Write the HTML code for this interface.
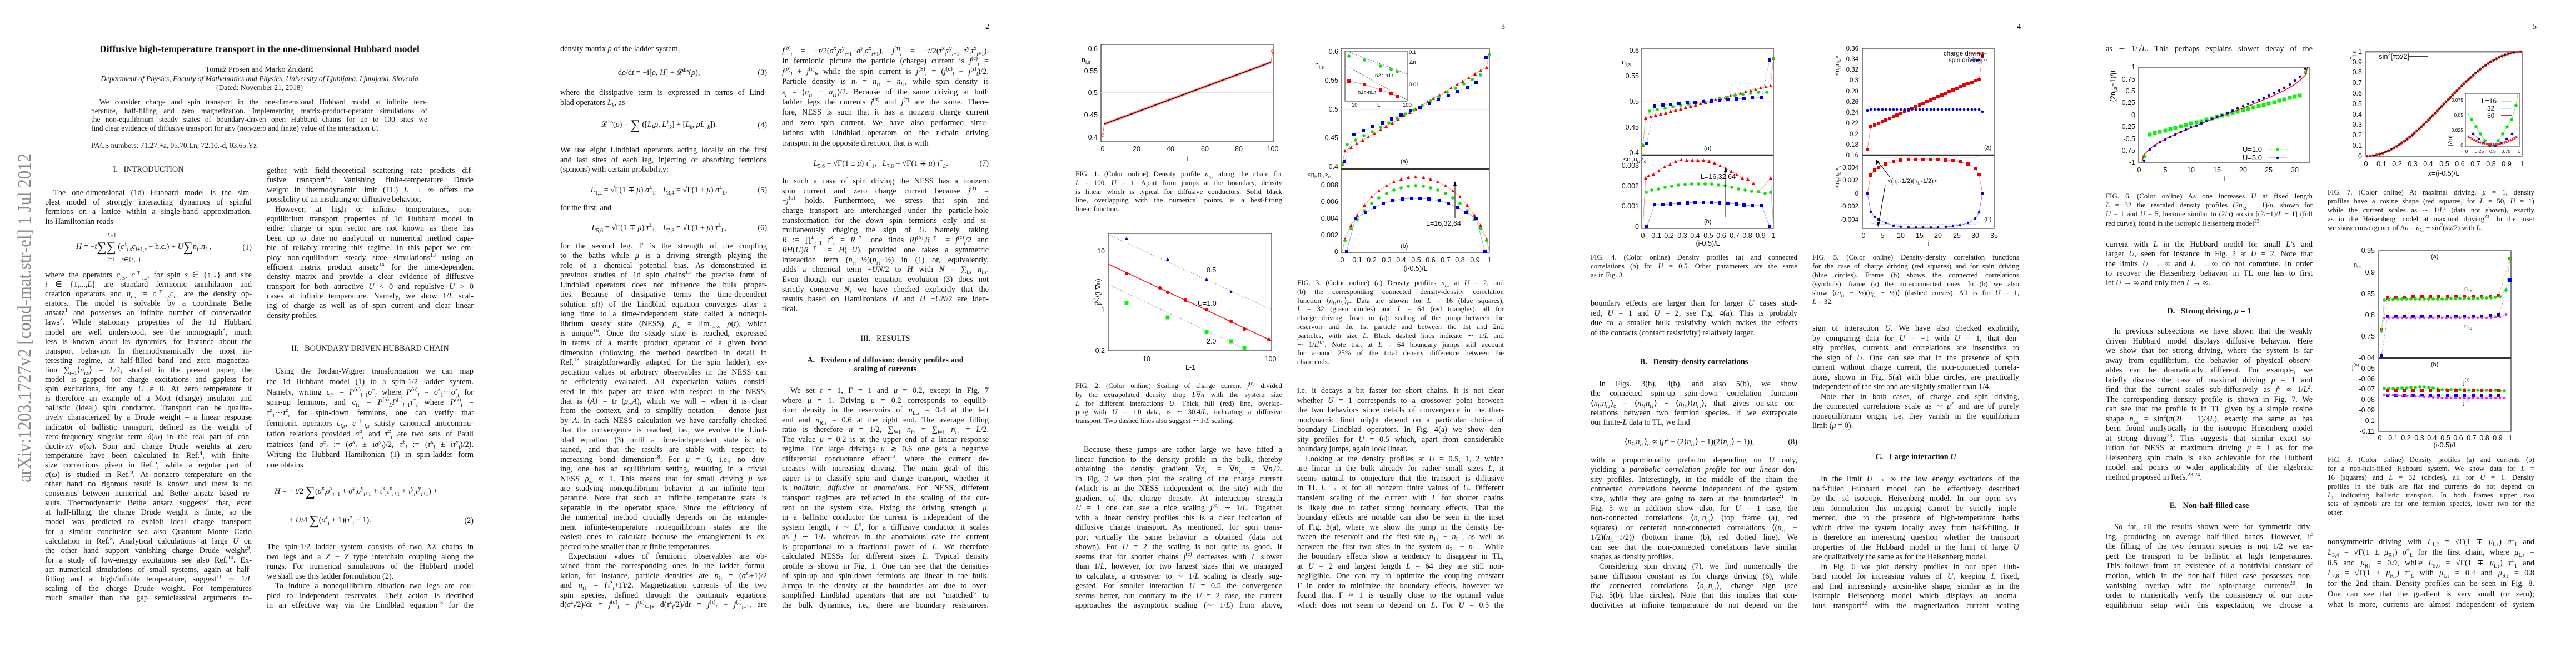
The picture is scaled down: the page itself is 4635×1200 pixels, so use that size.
<!DOCTYPE html>
<html><head><meta charset="utf-8">
<style>
html,body{margin:0;padding:0;background:#fff;}
body{width:4635px;height:1200px;position:relative;overflow:hidden;font-family:"Liberation Serif",serif;color:#111;}
.c{position:absolute;width:372px;font-size:14.3px;}
.c>div{height:var(--lh);line-height:var(--lh);overflow:hidden;text-align:justify;text-align-last:justify;}
.c>div.e{text-align-last:left;}
.c>div.i{text-indent:15px;}
.cap{font-size:12.9px;}
.t{position:absolute;white-space:nowrap;}
.h{position:absolute;width:372px;text-align:center;font-size:14.3px;white-space:nowrap;}
.eq{position:absolute;width:372px;font-size:14.3px;white-space:nowrap;display:flex;justify-content:space-between;align-items:center;}
.eq span.m{flex:1;text-align:center;}
sub,sup{font-size:70%;line-height:0;}
.big{font-size:24px;vertical-align:-4px;}
.pn{position:absolute;font-size:14px;top:41px;}
svg text{font-family:"Liberation Sans",sans-serif;}
</style></head><body>

<!-- ============ PAGE 1 ============ -->
<div class="t" style="left:124px;top:78px;width:686px;text-align:center;font-size:17.5px;font-weight:bold;">Diffusive high-temperature transport in the one-dimensional Hubbard model</div>
<div class="t" style="left:124px;top:118px;width:686px;text-align:center;font-size:14px;">Tomaž Prosen and Marko Žnidarič</div>
<div class="t" style="left:124px;top:134px;width:686px;text-align:center;font-size:13.5px;font-style:italic;">Department of Physics, Faculty of Mathematics and Physics, University of Ljubljana, Ljubljana, Slovenia</div>
<div class="t" style="left:124px;top:150px;width:686px;text-align:center;font-size:13.5px;">(Dated: November 21, 2018)</div>
<div class="c" style="left:164px;top:176px;width:605px;font-size:13.4px;--lh:15.6px;">
<div class="i">We consider charge and spin transport in the one-dimensional Hubbard model at infinite tem-</div>
<div>perature, half-filling and zero magnetization. Implementing matrix-product-operator simulations of</div>
<div>the non-equilibrium steady states of boundary-driven open Hubbard chains for up to 100 sites we</div>
<div class="e">find clear evidence of diffusive transport for any (non-zero and finite) value of the interaction <i>U</i>.</div>
</div>
<div class="t" style="left:164px;top:254px;font-size:13.4px;">PACS numbers: 71.27.+a, 05.70.Ln, 72.10.-d, 03.65.Yz</div>

<div class="h" style="left:81px;top:297px;">I.&nbsp;&nbsp; INTRODUCTION</div>
<div class="c" style="left:81px;top:339px;--lh:17.2px;">
<div class="i">The one-dimensional (1d) Hubbard model is the sim-</div>
<div>plest model of strongly interacting dynamics of spinful</div>
<div>fermions on a lattice within a single-band approximation.</div>
<div class="e">Its Hamiltonian reads</div>
</div>
<div class="eq" style="left:81px;top:430px;height:30px;"><span class="m"><i>H</i> = −<i>t</i><span class="big">∑</span><span class="big">∑</span> (<i>c</i><sup>†</sup><sub><i>i,s</i></sub><i>c</i><sub><i>i</i>+1,<i>s</i></sub> + h.c.) + <i>U</i><span class="big">∑</span><i>n</i><sub><i>i</i>↑</sub><i>n</i><sub><i>i</i>↓</sub>,</span><span>(1)</span></div>
<div class="t" style="left:193px;top:419px;font-size:10px;"><i>L</i>−1</div>
<div class="t" style="left:193px;top:462px;font-size:10px;"><i>i</i>=1&nbsp;&nbsp;&nbsp;&nbsp;&nbsp;<i>s</i>∈{↑,↓}</div>
<div class="c" style="left:81px;top:487px;--lh:17.1px;">
<div>where the operators <i>c<sub>i,s</sub></i>, <i>c</i><sup>†</sup><sub><i>i,s</i></sub>, for spin <i>s</i> ∈ {↑,↓} and site</div>
<div><i>i</i> ∈ {1,...,<i>L</i>} are standard fermionic annihilation and</div>
<div>creation operators and <i>n<sub>i,s</sub></i> := <i>c</i><sup>†</sup><sub><i>i,s</i></sub><i>c<sub>i,s</sub></i> are the density op-</div>
<div>erators. The model is solvable by a coordinate Bethe</div>
<div>ansatz<sup>1</sup> and possesses an infinite number of conservation</div>
<div>laws<sup>2</sup>. While stationary properties of the 1d Hubbard</div>
<div>model are well understood, see the monograph<sup>3</sup>, much</div>
<div>less is known about its dynamics, for instance about the</div>
<div>transport behavior. In thermodynamically the most in-</div>
<div>teresting regime, at half-filled band and zero magnetiza-</div>
<div>tion ∑<sub><i>i</i>=1</sub>⟨<i>n<sub>i,s</sub></i>⟩ = <i>L</i>/2, studied in the present paper, the</div>
<div>model is gapped for charge excitations and gapless for</div>
<div>spin excitations, for any <i>U</i> ≠ 0. At zero temperature it</div>
<div>is therefore an example of a Mott (charge) insulator and</div>
<div>ballistic (ideal) spin conductor. Transport can be qualita-</div>
<div>tively characterized by a Drude weight – a linear response</div>
<div>indicator of ballistic transport, defined as the weight of</div>
<div>zero-frequency singular term <i>δ</i>(<i>ω</i>) in the real part of con-</div>
<div>ductivity <i>σ</i>(<i>ω</i>). Spin and charge Drude weights at zero</div>
<div>temperature have been calculated in Ref.<sup>4</sup>, with finite-</div>
<div>size corrections given in Ref.<sup>5</sup>, while a regular part of</div>
<div><i>σ</i>(<i>ω</i>) is studied in Ref.<sup>6</sup>. At nonzero temperature on the</div>
<div>other hand no rigorous result is known and there is no</div>
<div>consensus between numerical and Bethe ansatz based re-</div>
<div>sults. Thermodynamic Bethe ansatz suggests<sup>7</sup> that, even</div>
<div>at half-filling, the charge Drude weight is finite, so the</div>
<div>model was predicted to exhibit ideal charge transport;</div>
<div>for a similar conclusion see also Quantum Monte Carlo</div>
<div>calculation in Ref.<sup>8</sup>. Analytical calculations at large <i>U</i> on</div>
<div>the other hand support vanishing charge Drude weight<sup>9</sup>,</div>
<div>for a study of low-energy excitations see also Ref.<sup>10</sup>. Ex-</div>
<div>act numerical simulations of small systems, again at half-</div>
<div>filling and at high/infinite temperature, suggest<sup>11</sup> ∼ 1/<i>L</i></div>
<div>scaling of the charge Drude weight. For temperatures</div>
<div>much smaller than the gap semiclassical arguments to-</div>
</div>

<div class="c" style="left:480px;top:299px;--lh:17.4px;">
<div>gether with field-theoretical scattering rate predicts dif-</div>
<div>fusive transport<sup>12</sup>. Vanishing finite-temperature Drude</div>
<div>weight in thermodynamic limit (TL) <i>L</i> → ∞ offers the</div>
<div class="e">possibility of an insulating or diffusive behavior.</div>
<div class="i">However, at high or infinite temperatures, non-</div>
<div>equilibrium transport properties of 1d Hubbard model in</div>
<div>either charge or spin sector are not known as there has</div>
<div>been up to date no analytical or numerical method capa-</div>
<div>ble of reliably treating this regime. In this paper we em-</div>
<div>ploy non-equilibrium steady state simulations<sup>13</sup> using an</div>
<div>efficient matrix product ansatz<sup>14</sup> for the time-dependent</div>
<div>density matrix and provide a clear evidence of diffusive</div>
<div>transport for both attractive <i>U</i> &lt; 0 and repulsive <i>U</i> &gt; 0</div>
<div>cases at infinite temperature. Namely, we show 1/<i>L</i> scal-</div>
<div>ing of charge as well as of spin current and clear linear</div>
<div class="e">density profiles.</div>
</div>
<div class="h" style="left:480px;top:619px;">II.&nbsp;&nbsp; BOUNDARY DRIVEN HUBBARD CHAIN</div>
<div class="c" style="left:480px;top:659px;--lh:18.8px;">
<div class="i">Using the Jordan-Wigner transformation we can map</div>
<div>the 1d Hubbard model (1) to a spin-1/2 ladder system.</div>
<div>Namely, writing <i>c</i><sub><i>i</i>↑</sub> = <i>P</i><sup>(<i>σ</i>)</sup><sub><i>i</i>−1</sub><i>σ</i><sup>−</sup><sub><i>i</i></sub> where <i>P</i><sup>(<i>σ</i>)</sup><sub><i>i</i></sub> = <i>σ</i><sup>z</sup><sub>1</sub>···<i>σ</i><sup>z</sup><sub><i>i</i></sub> for</div>
<div>spin-up fermions, and <i>c</i><sub><i>i</i>↓</sub> = <i>P</i><sup>(<i>σ</i>)</sup><sub><i>L</i></sub><i>P</i><sup>(<i>τ</i>)</sup><sub><i>i</i>−1</sub><i>τ</i><sup>−</sup><sub><i>i</i></sub> where <i>P</i><sup>(<i>τ</i>)</sup><sub><i>i</i></sub> =</div>
<div><i>τ</i><sup>z</sup><sub>1</sub>···<i>τ</i><sup>z</sup><sub><i>i</i></sub> for spin-down fermions, one can verify that</div>
<div>fermionic operators <i>c<sub>i,s</sub></i>, <i>c</i><sup>†</sup><sub><i>i,s</i></sub> satisfy canonical anticommu-</div>
<div>tation relations provided <i>σ</i><sup>α</sup><sub><i>i</i></sub> and <i>τ</i><sup>α</sup><sub><i>i</i></sub> are two sets of Pauli</div>
<div>matrices (and <i>σ</i><sup>±</sup><sub><i>j</i></sub> := (<i>σ</i><sup>x</sup><sub><i>j</i></sub> ± i<i>σ</i><sup>y</sup><sub><i>j</i></sub>)/2, <i>τ</i><sup>±</sup><sub><i>j</i></sub> := (<i>τ</i><sup>x</sup><sub><i>j</i></sub> ± i<i>τ</i><sup>y</sup><sub><i>j</i></sub>)/2).</div>
<div>Writing the Hubbard Hamiltonian (1) in spin-ladder form</div>
<div class="e">one obtains</div>
</div>
<div class="eq" style="left:480px;top:870px;height:30px;"><span style="padding-left:14px"><i>H</i> = − <i>t</i>/2 <span class="big">∑</span>(<i>σ</i><sup>x</sup><sub><i>i</i></sub><i>σ</i><sup>x</sup><sub><i>i</i>+1</sub> + <i>σ</i><sup>y</sup><sub><i>i</i></sub><i>σ</i><sup>y</sup><sub><i>i</i>+1</sub> + <i>τ</i><sup>x</sup><sub><i>i</i></sub><i>τ</i><sup>x</sup><sub><i>i</i>+1</sub> + <i>τ</i><sup>y</sup><sub><i>i</i></sub><i>τ</i><sup>y</sup><sub><i>i</i>+1</sub>) +</span><span></span></div>
<div class="eq" style="left:480px;top:922px;height:30px;"><span style="padding-left:40px">+ <i>U</i>/4 <span class="big">∑</span>(<i>σ</i><sup>z</sup><sub><i>i</i></sub> + 1)(<i>τ</i><sup>z</sup><sub><i>i</i></sub> + 1).</span><span>(2)</span></div>
<div class="c" style="left:480px;top:976px;--lh:17.5px;">
<div>The spin-1/2 ladder system consists of two <i>XX</i> chains in</div>
<div>two legs and a <i>Z</i> − <i>Z</i> type interchain coupling along the</div>
<div>rungs. For numerical simulations of the Hubbard model</div>
<div class="e">we shall use this ladder formulation (2).</div>
<div class="i">To induce a nonequilibrium situation two legs are cou-</div>
<div>pled to independent reservoirs. Their action is decribed</div>
<div>in an effective way via the Lindblad equation<sup>15</sup> for the</div>
</div>

<!-- ============ PAGE 2 ============ -->
<div class="pn" style="left:1773px;">2</div>
<div class="c" style="left:1008px;top:80px;--lh:17.4px;">
<div class="e">density matrix <i>ρ</i> of the ladder system,</div>
</div>
<div class="eq" style="left:1008px;top:120px;height:22px;"><span class="m">d<i>ρ</i>/d<i>t</i> = −i[<i>ρ</i>, <i>H</i>] + 𝓛<sup>dis</sup>(<i>ρ</i>),</span><span>(3)</span></div>
<div class="c" style="left:1008px;top:159px;--lh:17.6px;">
<div>where the dissipative term is expressed in terms of Lind-</div>
<div class="e">blad operators <i>L<sub>k</sub></i>, as</div>
</div>
<div class="eq" style="left:1008px;top:212px;height:26px;"><span class="m">𝓛<sup>dis</sup>(<i>ρ</i>) = <span class="big">∑</span> ([<i>L<sub>k</sub>ρ</i>, <i>L</i><sup>†</sup><sub><i>k</i></sub>] + [<i>L<sub>k</sub></i>, <i>ρL</i><sup>†</sup><sub><i>k</i></sub>]).</span><span>(4)</span></div>
<div class="c" style="left:1008px;top:262px;--lh:17.5px;">
<div>We use eight Lindblad operators acting locally on the first</div>
<div>and last sites of each leg, injecting or absorbing fermions</div>
<div class="e">(spinons) with certain probability:</div>
</div>
<div class="eq" style="left:1008px;top:331px;height:22px;"><span class="m"><i>L</i><sub>1,2</sub> = √Γ(1 ∓ <i>μ</i>) <i>σ</i><sup>±</sup><sub>1</sub>,&nbsp;&nbsp; <i>L</i><sub>3,4</sub> = √Γ(1 ± <i>μ</i>) <i>σ</i><sup>±</sup><sub><i>L</i></sub>,</span><span>(5)</span></div>
<div class="c" style="left:1008px;top:366px;--lh:17.5px;"><div class="e">for the first, and</div></div>
<div class="eq" style="left:1008px;top:399px;height:22px;"><span class="m"><i>L</i><sub>5,6</sub> = √Γ(1 ∓ <i>μ</i>) <i>τ</i><sup>±</sup><sub>1</sub>,&nbsp;&nbsp; <i>L</i><sub>7,8</sub> = √Γ(1 ± <i>μ</i>) <i>τ</i><sup>±</sup><sub><i>L</i></sub>,</span><span>(6)</span></div>
<div class="c" style="left:1008px;top:435px;--lh:17.45px;">
<div>for the second leg. Γ is the strength of the coupling</div>
<div>to the baths while <i>μ</i> is a driving strength playing the</div>
<div>role of a chemical potential bias. As demonstrated in</div>
<div>previous studies of 1d spin chains<sup>13</sup> the precise form of</div>
<div>Lindblad operators does not influence the bulk proper-</div>
<div>ties. Because of dissipative terms the time-dependent</div>
<div>solution <i>ρ</i>(<i>t</i>) of the Lindblad equation converges after a</div>
<div>long time to a time-independent state called a nonequi-</div>
<div>librium steady state (NESS), <i>ρ</i><sub>∞</sub> = lim<sub><i>t</i>→∞</sub> <i>ρ</i>(<i>t</i>), which</div>
<div>is unique<sup>16</sup>. Once the steady state is reached, expressed</div>
<div>in terms of a matrix product operator of a given bond</div>
<div>dimension (following the method described in detail in</div>
<div>Ref.<sup>13</sup> straightforwardly adapted for the spin ladder), ex-</div>
<div>pectation values of arbitrary observables in the NESS can</div>
<div>be efficiently evaluated. All expectation values consid-</div>
<div>ered in this paper are taken with respect to the NESS,</div>
<div>that is ⟨<i>A</i>⟩ = tr (<i>ρ</i><sub>∞</sub><i>A</i>), which we will – when it is clear</div>
<div>from the context, and to simplify notation – denote just</div>
<div>by <i>A</i>. In each NESS calculation we have carefully checked</div>
<div>that the convergence is reached, i.e., we evolve the Lind-</div>
<div>blad equation (3) until a time-independent state is ob-</div>
<div>tained, and that the results are stable with respect to</div>
<div>increasing bond dimension<sup>18</sup>. For <i>μ</i> = 0, i.e., no driv-</div>
<div>ing, one has an equilibrium setting, resulting in a trivial</div>
<div>NESS <i>ρ</i><sub>∞</sub> ∝ 1. This means that for small driving <i>μ</i> we</div>
<div>are studying nonequilibrium behavior at an infinite tem-</div>
<div>perature. Note that such an infinite temperature state is</div>
<div>separable in the operator space. Since the efficiency of</div>
<div>the numerical method crucially depends on the entangle-</div>
<div>ment infinite-temperature nonequilibrium states are the</div>
<div>easiest ones to calculate because the entanglement is ex-</div>
<div class="e">pected to be smaller than at finite temperatures.</div>
<div class="i">Expectation values of fermionic observables are ob-</div>
<div>tained from the corresponding ones in the ladder formu-</div>
<div>lation, for instance, particle densities are <i>n</i><sub><i>i</i>↑</sub> = (<i>σ</i><sup>z</sup><sub><i>i</i></sub>+1)/2</div>
<div>and <i>n</i><sub><i>i</i>↓</sub> = (<i>τ</i><sup>z</sup><sub><i>i</i></sub>+1)/2. Magnetization currents of the two</div>
<div>spin species, defined through the continuity equations</div>
<div>d(<i>σ</i><sup>z</sup><sub><i>i</i></sub>/2)/d<i>t</i> = <i>j</i><sup>(<i>σ</i>)</sup><sub><i>i</i></sub> − <i>j</i><sup>(<i>σ</i>)</sup><sub><i>i</i>−1</sub>, d(<i>τ</i><sup>z</sup><sub><i>i</i></sub>/2)/d<i>t</i> = <i>j</i><sup>(<i>τ</i>)</sup><sub><i>i</i></sub> − <i>j</i><sup>(<i>τ</i>)</sup><sub><i>i</i>−1</sub>, are</div>
</div>

<div class="c" style="left:1407px;top:83px;--lh:18.4px;">
<div><i>j</i><sup>(<i>σ</i>)</sup><sub><i>i</i></sub> = −<i>t</i>/2(<i>σ</i><sup>x</sup><sub><i>i</i></sub><i>σ</i><sup>y</sup><sub><i>i</i>+1</sub>−<i>σ</i><sup>y</sup><sub><i>i</i></sub><i>σ</i><sup>x</sup><sub><i>i</i>+1</sub>), <i>j</i><sup>(<i>τ</i>)</sup><sub><i>i</i></sub> = −<i>t</i>/2(<i>τ</i><sup>x</sup><sub><i>i</i></sub><i>τ</i><sup>y</sup><sub><i>i</i>+1</sub>−<i>τ</i><sup>y</sup><sub><i>i</i></sub><i>τ</i><sup>x</sup><sub><i>i</i>+1</sub>).</div>
<div>In fermionic picture the particle (charge) current is <i>j</i><sup>(c)</sup><sub><i>i</i></sub> =</div>
<div><i>j</i><sup>(<i>σ</i>)</sup><sub><i>i</i></sub> + <i>j</i><sup>(<i>τ</i>)</sup><sub><i>i</i></sub>, while the spin current is <i>j</i><sup>(S)</sup><sub><i>i</i></sub> = (<i>j</i><sup>(<i>σ</i>)</sup><sub><i>i</i></sub> − <i>j</i><sup>(<i>τ</i>)</sup><sub><i>i</i></sub>)/2.</div>
<div>Particle density is <i>n<sub>i</sub></i> = <i>n</i><sub><i>i</i>↑</sub> + <i>n</i><sub><i>i</i>↓</sub>, while spin density is</div>
<div><i>s<sub>i</sub></i> = (<i>n</i><sub><i>i</i>↑</sub> − <i>n</i><sub><i>i</i>↓</sub>)/2. Because of the same driving at both</div>
<div>ladder legs the currents <i>j</i><sup>(<i>σ</i>)</sup> and <i>j</i><sup>(<i>τ</i>)</sup> are the same. There-</div>
<div>fore, NESS is such that it has a nonzero charge current</div>
<div>and zero spin current. We have also performed simu-</div>
<div>lations with Lindblad operators on the <i>τ</i>-chain driving</div>
<div class="e">transport in the opposite direction, that is with</div>
</div>
<div class="eq" style="left:1407px;top:283px;height:22px;"><span class="m"><i>L</i><sub>5,6</sub> = √Γ(1 ± <i>μ</i>) <i>τ</i><sup>±</sup><sub>1</sub>,&nbsp;&nbsp; <i>L</i><sub>7,8</sub> = √Γ(1 ∓ <i>μ</i>) <i>τ</i><sup>±</sup><sub><i>L</i></sub>.</span><span>(7)</span></div>
<div class="c" style="left:1407px;top:318px;--lh:17.7px;">
<div>In such a case of spin driving the NESS has a nonzero</div>
<div>spin current and zero charge current because <i>j</i><sup>(<i>τ</i>)</sup> =</div>
<div>−<i>j</i><sup>(<i>σ</i>)</sup> holds. Furthermore, we stress that spin and</div>
<div>charge transport are interchanged under the particle-hole</div>
<div>transformation for the <i>down</i> spin fermions only and si-</div>
<div>multaneously chaging the sign of <i>U</i>. Namely, taking</div>
<div><i>R</i> := ∏<sup><i>L</i></sup><sub><i>i</i>=1</sub> <i>τ</i><sup>x</sup><sub><i>i</i></sub> = <i>R</i><sup>†</sup> one finds <i>Rj</i><sup>(S)</sup><sub><i>i</i></sub><i>R</i><sup>†</sup> = <i>j</i><sup>(c)</sup><sub><i>i</i></sub>/2 and</div>
<div><i>RH</i>(<i>U</i>)<i>R</i><sup>†</sup> = <i>H</i>(−<i>U</i>), provided one takes a symmetric</div>
<div>interaction term (<i>n</i><sub><i>i</i>↑</sub>−½)(<i>n</i><sub><i>i</i>↓</sub>−½) in (1) or, equivalently,</div>
<div>adds a chemical term −<i>UN</i>/2 to <i>H</i> with <i>N</i> = ∑<sub><i>i,s</i></sub> <i>n<sub>i,s</sub></i>.</div>
<div>Even though our master equation evolution (3) does not</div>
<div>strictly conserve <i>N</i>, we have checked explicitly that the</div>
<div>results based on Hamiltonians <i>H</i> and <i>H</i> −<i>UN</i>/2 are iden-</div>
<div class="e">tical.</div>
</div>
<div class="h" style="left:1407px;top:601px;">III.&nbsp;&nbsp; RESULTS</div>
<div class="h" style="left:1407px;top:640px;font-weight:bold;">A.&nbsp;&nbsp; Evidence of diffusion: density profiles and</div>
<div class="h" style="left:1407px;top:656px;font-weight:bold;">scaling of currents</div>
<div class="c" style="left:1407px;top:695px;--lh:17.55px;">
<div class="i">We set <i>t</i> = 1, Γ = 1 and <i>μ</i> = 0.2, except in Fig. 7</div>
<div>where <i>μ</i> = 1. Driving <i>μ</i> = 0.2 corresponds to equilib-</div>
<div>rium density in the reservoirs of <i>n</i><sub>L,<i>s</i></sub> = 0.4 at the left</div>
<div>end and <i>n</i><sub>R,<i>s</i></sub> = 0.6 at the right end. The average filling</div>
<div>ratio is therefore <i>n</i> = 1/2, ∑<sub><i>i</i>=1</sub> <i>n</i><sub><i>i</i>↑</sub> = ∑<sub><i>i</i>=1</sub> <i>n</i><sub><i>i</i>↓</sub> = <i>L</i>/2.</div>
<div>The value <i>μ</i> = 0.2 is at the upper end of a linear response</div>
<div>regime. For large drivings <i>μ</i> ≳ 0.6 one gets a negative</div>
<div>differential conductance effect<sup>19</sup>, where the current de-</div>
<div>creases with increasing driving. The main goal of this</div>
<div>paper is to classify spin and charge transport, whether it</div>
<div>is <i>ballistic</i>, <i>diffusive</i> or <i>anomalous</i>. For NESS, different</div>
<div>transport regimes are reflected in the scaling of the cur-</div>
<div>rent on the system size. Fixing the driving strength <i>μ</i>,</div>
<div>in a ballistic conductor the current is independent of the</div>
<div>system length, <i>j</i> ∼ <i>L</i><sup>0</sup>, for a diffusive conductor it scales</div>
<div>as <i>j</i> ∼ 1/<i>L</i>, whereas in the anomalous case the current</div>
<div>is proportional to a fractional power of <i>L</i>. We therefore</div>
<div>calculated NESSs for different sizes <i>L</i>. Typical density</div>
<div>profile is shown in Fig. 1. One can see that the densities</div>
<div>of spin-up and spin-down fermions are linear in the bulk.</div>
<div>Jumps in the density at the boundaries are due to over-</div>
<div>simplified Lindblad operators that are not “matched” to</div>
<div>the bulk dynamics, i.e., there are boundary resistances.</div>
</div>

<!-- ============ PAGE 3 ============ -->
<div class="pn" style="left:2701px;">3</div>
<div class="c cap" style="left:1935px;top:306px;--lh:15.8px;">
<div>FIG. 1. (Color online) Density profile <i>n<sub>i,s</sub></i> along the chain for</div>
<div><i>L</i> = 100, <i>U</i> = 1. Apart from jumps at the boundary, density</div>
<div>is linear which is typical for diffusive conductors. Solid black</div>
<div>line, overlapping with the numerical points, is a best-fitting</div>
<div class="e">linear function.</div>
</div>
<div class="c cap" style="left:1935px;top:687px;--lh:15.8px;">
<div>FIG. 2. (Color online) Scaling of charge current <i>j</i><sup>(c)</sup> divided</div>
<div>by the extrapolated density drop <i>L</i>∇<i>n</i> with the system size</div>
<div><i>L</i> for different interactions <i>U</i>. Thick full (red) line, overlap-</div>
<div>ping with <i>U</i> = 1.0 data, is ∼ 30.4/<i>L</i>, indicating a diffusive</div>
<div class="e">transport. Two dashed lines also suggest ∼ 1/<i>L</i> scaling.</div>
</div>
<div class="c" style="left:1935px;top:801px;--lh:17.5px;">
<div class="i">Because these jumps are rather large we have fitted a</div>
<div>linear function to the density profile in the bulk, thereby</div>
<div>obtaining the density gradient ∇<i>n</i><sub><i>i</i>↑</sub> = ∇<i>n</i><sub><i>i</i>↓</sub> = ∇<i>n<sub>i</sub></i>/2.</div>
<div>In Fig. 2 we then plot the scaling of the charge current</div>
<div>(which is in the NESS independent of the site) with the</div>
<div>gradient of the charge density. At interaction strength</div>
<div><i>U</i> = 1 one can see a nice scaling <i>j</i><sup>(c)</sup> ∼ 1/<i>L</i>. Together</div>
<div>with a linear density profiles this is a clear indication of</div>
<div>diffusive charge transport. As mentioned, for spin trans-</div>
<div>port virtually the same behavior is obtained (data not</div>
<div>shown). For <i>U</i> = 2 the scaling is not quite as good. It</div>
<div>seems that for shorter chains <i>j</i><sup>(c)</sup> decreases with <i>L</i> slower</div>
<div>than 1/<i>L</i>, however, for two largest sizes that we managed</div>
<div>to calculate, a crossover to ∼ 1/<i>L</i> scaling is clearly sug-</div>
<div>gested. For smaller interaction <i>U</i> = 0.5 the convergence</div>
<div>seems better, but contrary to the <i>U</i> = 2 case, the current</div>
<div>approaches the asymptotic scaling (∼ 1/<i>L</i>) from above,</div>
</div>

<div class="c cap" style="left:2334px;top:502px;--lh:15.8px;">
<div>FIG. 3. (Color online) (a) Density profiles <i>n<sub>i,s</sub></i> at <i>U</i> = 2, and</div>
<div>(b) the corresponding connected density-density correlation</div>
<div>function ⟨<i>n</i><sub><i>i</i>↑</sub><i>n</i><sub><i>i</i>↓</sub>⟩<sub>c</sub>. Data are shown for <i>L</i> = 16 (blue squares),</div>
<div><i>L</i> = 32 (green circles) and <i>L</i> = 64 (red triangles), all for</div>
<div>charge driving. Inset in (a): scaling of the jump between the</div>
<div>reservoir and the 1st particle and between the 1st and 2nd</div>
<div>particles, with size <i>L</i>. Black dashed lines indicate ∼ 1/<i>L</i> and</div>
<div>∼ 1/<i>L</i><sup>0.7</sup>. Note that at <i>L</i> = 64 boundary jumps still account</div>
<div>for around 25% of the total density difference between the</div>
<div class="e">chain ends.</div>
</div>
<div class="c" style="left:2334px;top:695px;--lh:17.55px;">
<div>i.e. it decays a bit faster for short chains. It is not clear</div>
<div>whether <i>U</i> = 1 corresponds to a crossover point between</div>
<div>the two behaviors since details of convergence in the ther-</div>
<div>modynamic limit might depend on a particular choice of</div>
<div>boundary Lindblad operators. In Fig. 4(a) we show den-</div>
<div>sity profiles for <i>U</i> = 0.5 which, apart from considerable</div>
<div class="e">boundary jumps, again look linear.</div>
<div class="i">Looking at the density profiles at <i>U</i> = 0.5, 1, 2 which</div>
<div>are linear in the bulk already for rather small sizes <i>L</i>, it</div>
<div>seems natural to conjecture that the transport is diffusive</div>
<div>in TL <i>L</i> → ∞ for all nonzero finite values of <i>U</i>. Different</div>
<div>transient scaling of the current with <i>L</i> for shorter chains</div>
<div>is likely due to rather strong boundary effects. That the</div>
<div>boundary effects are notable can also be seen in the inset</div>
<div>of Fig. 3(a), where we show the jump in the density be-</div>
<div>tween the reservoir and the first site <i>n</i><sub>1↑</sub> − <i>n</i><sub>L↑</sub>, as well as</div>
<div>between the first two sites in the system <i>n</i><sub>2↑</sub> − <i>n</i><sub>1↑</sub>. While</div>
<div>the boundary effects show a tendency to disappear in TL,</div>
<div>at <i>U</i> = 2 and largest length <i>L</i> = 64 they are still non-</div>
<div>negligible. One can try to optimize the coupling constant</div>
<div>Γ in order to minimize the boundary effects, however we</div>
<div>found that Γ ≈ 1 is usually close to the optimal value</div>
<div>which does not seem to depend on <i>L</i>. For <i>U</i> = 0.5 the</div>
</div>

<!-- ============ PAGE 4 ============ -->
<div class="pn" style="left:3629px;">4</div>
<div class="c cap" style="left:2862px;top:455px;--lh:16px;">
<div>FIG. 4. (Color online) Density profiles (a) and connected</div>
<div>correlations (b) for <i>U</i> = 0.5. Other parameters are the same</div>
<div class="e">as in Fig. 3.</div>
</div>
<div class="c" style="left:2862px;top:538px;--lh:17.6px;">
<div>boundary effects are larger than for larger <i>U</i> cases stud-</div>
<div>ied, <i>U</i> = 1 and <i>U</i> = 2, see Fig. 4(a). This is probably</div>
<div>due to a smaller bulk resistivity which makes the effects</div>
<div class="e">of the contacts (contact resistivity) relatively larger.</div>
</div>
<div class="h" style="left:2862px;top:643px;font-weight:bold;">B.&nbsp;&nbsp; Density-density correlations</div>
<div class="c" style="left:2862px;top:683px;--lh:17.3px;">
<div class="i">In Figs. 3(b), 4(b), and also 5(b), we show</div>
<div>the connected spin-up spin-down correlation function</div>
<div>⟨<i>n</i><sub><i>i</i>↑</sub><i>n</i><sub><i>i</i>↓</sub>⟩<sub>c</sub> = ⟨<i>n</i><sub><i>i</i>↑</sub><i>n</i><sub><i>i</i>↓</sub>⟩ − ⟨<i>n</i><sub><i>i</i>↑</sub>⟩⟨<i>n</i><sub><i>i</i>↓</sub>⟩, that gives on-site cor-</div>
<div>relations between two fermion species. If we extrapolate</div>
<div class="e">our finite-<i>L</i> data to TL, we find</div>
</div>
<div class="eq" style="left:2862px;top:784px;height:22px;"><span class="m">⟨<i>n</i><sub><i>i</i>↑</sub><i>n</i><sub><i>i</i>↓</sub>⟩<sub>c</sub> ∝ (<i>μ</i><sup>2</sup> − (2⟨<i>n</i><sub><i>i</i>↑</sub>⟩ − 1)(2⟨<i>n</i><sub><i>i</i>↓</sub>⟩ − 1)),</span><span>(8)</span></div>
<div class="c" style="left:2862px;top:820px;--lh:17.4px;">
<div>with a proportionality prefactor depending on <i>U</i> only,</div>
<div>yielding a <i>parabolic correlation profile</i> for our <i>linear</i> den-</div>
<div>sity profiles. Interestingly, in the middle of the chain the</div>
<div>connected correlations become independent of the system</div>
<div>size, while they are going to zero at the boundaries<sup>21</sup>. In</div>
<div>Fig. 5 we in addition show also, for <i>U</i> = 1 case, the</div>
<div>non-connected correlations ⟨<i>n</i><sub><i>i</i>↑</sub><i>n</i><sub><i>i</i>↓</sub>⟩ (top frame (a), red</div>
<div>squares), or centered non-connected correlations ⟨(<i>n</i><sub><i>i</i>↑</sub> −</div>
<div>1/2)(<i>n</i><sub><i>i</i>↓</sub>−1/2)⟩ (bottom frame (b), red dotted line). We</div>
<div>can see that the non-connected correlations have similar</div>
<div class="e">shapes as density profiles.</div>
<div class="i">Considering spin driving (7), we find numerically the</div>
<div>same diffusion constant as for charge driving (6), while</div>
<div>the connected correlations ⟨<i>n</i><sub><i>i</i>↑</sub><i>n</i><sub><i>i</i>↓</sub>⟩<sub>c</sub> change sign (see</div>
<div>Fig. 5(b), blue circles). Note that this implies that con-</div>
<div>ductivities at infinite temperature do not depend on the</div>
</div>

<div class="c cap" style="left:3261px;top:455px;--lh:16px;">
<div>FIG. 5. (Color online) Density-density correlation functions</div>
<div>for the case of charge driving (red squares) and for spin driving</div>
<div>(blue circles). Frame (b) shows the connected correlations</div>
<div>(symbols), frame (a) the non-connected ones. In (b) we also</div>
<div>show ⟨(<i>n</i><sub><i>i</i>↑</sub> − ½)(<i>n</i><sub><i>i</i>↓</sub> − ½)⟩ (dashed curves). All is for <i>U</i> = 1,</div>
<div class="e"><i>L</i> = 32.</div>
</div>
<div class="c" style="left:3261px;top:583px;--lh:17.5px;">
<div>sign of interaction <i>U</i>. We have also checked explicitly,</div>
<div>by comparing data for <i>U</i> = −1 with <i>U</i> = 1, that den-</div>
<div>sity profiles, currents and correlations are insensitive to</div>
<div>the sign of <i>U</i>. One can see that in the presence of spin</div>
<div>current without charge current, the non-connected correla-</div>
<div>tions, shown in Fig. 5(a) with blue circles, are practically</div>
<div class="e">independent of the site and are slightly smaller than 1/4.</div>
<div class="i">Note that in both cases, of charge and spin driving,</div>
<div>the connected correlations scale as ∼ <i>μ</i><sup>2</sup> and are of purely</div>
<div>nonequilibrium origin, i.e. they vanish in the equilibrium</div>
<div class="e">limit (<i>μ</i> = 0).</div>
</div>
<div class="h" style="left:3261px;top:814px;font-weight:bold;">C.&nbsp;&nbsp; Large interaction <i>U</i></div>
<div class="c" style="left:3261px;top:854px;--lh:17.5px;">
<div class="i">In the limit <i>U</i> → ∞ the low energy excitations of the</div>
<div>half-filled Hubbard model can be effectively described</div>
<div>by the 1d isotropic Heisenberg model. In our open sys-</div>
<div>tem formulation this mapping cannot be strictly imple-</div>
<div>mented, due to the presence of high-temperature baths</div>
<div>which drive the system locally away from half-filling. It</div>
<div>is therefore an interesting question whether the transport</div>
<div>properties of the Hubbard model in the limit of large <i>U</i></div>
<div class="e">are qualitatively the same as for the Heisenberg model.</div>
<div class="i">In Fig. 6 we plot density profiles in our open Hub-</div>
<div>bard model for increasing values of <i>U</i>, keeping <i>L</i> fixed,</div>
<div>and find increasingly arcsin-like shape, similar as in the</div>
<div>isotropic Heisenberg model which displays an anoma-</div>
<div>lous transport<sup>22</sup> with the magnetization current scaling</div>
</div>

<!-- ============ PAGE 5 ============ -->
<div class="pn" style="left:4557px;">5</div>
<div class="c" style="left:3789px;top:80px;--lh:17.5px;">
<div>as ∼ 1/√<i>L</i>. This perhaps explains slower decay of the</div>
</div>
<div class="c cap" style="left:3789px;top:345px;--lh:16.2px;">
<div>FIG. 6. (Color online) As one increases <i>U</i> at fixed length</div>
<div><i>L</i> = 32 the rescaled density profiles (2<i>n<sub>i,s</sub></i> − 1)/<i>μ</i>, shown for</div>
<div><i>U</i> = 1 and <i>U</i> = 5, become similar to (2/π) arcsin [(2<i>i</i>−1)/<i>L</i> − 1] (full</div>
<div class="e">red curve), found in the isotropic Heisenberg model<sup>22</sup>.</div>
</div>
<div class="c" style="left:3789px;top:432px;--lh:17.3px;">
<div>current with <i>L</i> in the Hubbard model for small <i>L</i>’s and</div>
<div>larger <i>U</i>, seen for instance in Fig. 2 at <i>U</i> = 2. Note that</div>
<div>the limits <i>U</i> → ∞ and <i>L</i> → ∞ do not commute. In order</div>
<div>to recover the Heisenberg behavior in TL one has to first</div>
<div class="e">let <i>U</i> → ∞ and only then <i>L</i> → ∞.</div>
</div>
<div class="h" style="left:3789px;top:552px;font-weight:bold;">D.&nbsp;&nbsp; Strong driving, <i>μ</i> = 1</div>
<div class="c" style="left:3789px;top:588px;--lh:17.5px;">
<div class="i">In previous subsections we have shown that the weakly</div>
<div>driven Hubbard model displays diffusive behavior. Here</div>
<div>we show that for strong driving, where the system is far</div>
<div>away from equilibrium, the behavior of physical observ-</div>
<div>ables can be dramatically different. For example, we</div>
<div>briefly discuss the case of maximal driving <i>μ</i> = 1 and</div>
<div>find that the current scales sub-diffusively as <i>j</i><sup>c</sup> ∝ 1/<i>L</i><sup>2</sup>.</div>
<div>The corresponding density profile is shown in Fig. 7. We</div>
<div>can see that the profile is in TL given by a simple cosine</div>
<div>shape <i>n<sub>i,s</sub></i> = sin<sup>2</sup>(<i>π</i>(2<i>i</i> − 1)/4<i>L</i>), exactly the same as has</div>
<div>been found analytically in the isotropic Heisenberg model</div>
<div>at strong driving<sup>23</sup>. This suggests that similar exact so-</div>
<div>lution for NESS at maximum driving <i>μ</i> = 1 as for the</div>
<div>Heisenberg spin chain is also achievable for the Hubbard</div>
<div>model and points to wider applicability of the algebraic</div>
<div class="e">method proposed in Refs.<sup>23,24</sup>.</div>
</div>
<div class="h" style="left:3789px;top:902px;font-weight:bold;">E.&nbsp;&nbsp; Non-half-filled case</div>
<div class="c" style="left:3789px;top:940px;--lh:17.6px;">
<div class="i">So far, all the results shown were for symmetric driv-</div>
<div>ing, producing on average half-filled bands. However, if</div>
<div>the filling of the two fermion species is not 1/2 we ex-</div>
<div>pect the transport to be ballistic at high temperatures.</div>
<div>This follows from an existence of a nontrivial constant of</div>
<div>motion, which in the non-half filled case possesses non-</div>
<div>vanishing overlap with the spin/charge currents<sup>20</sup>. In</div>
<div>order to numerically verify the consistency of our non-</div>
<div>equilibrium setup with this expectation, we choose a</div>
</div>

<div class="c cap" style="left:4188px;top:338px;--lh:16px;">
<div>FIG. 7. (Color online) At maximal driving, <i>μ</i> = 1, density</div>
<div>profiles have a cosine shape (red squares, for <i>L</i> = 50, <i>U</i> = 1)</div>
<div>while the current scales as ∼ 1/<i>L</i><sup>2</sup> (data not shown), exactly</div>
<div>as in the Heisenberg model at maximal driving<sup>23</sup>. In the inset</div>
<div class="e">we show convergence of Δ<i>n</i> = <i>n<sub>i,s</sub></i> − sin<sup>2</sup>(<i>πx</i>/2) with <i>L</i>.</div>
</div>
<div class="c cap" style="left:4188px;top:820px;--lh:15.9px;">
<div>FIG. 8. (Color online) Density profiles (a) and currents (b)</div>
<div>for a non-half-filled Hubbard system. We show data for <i>L</i> =</div>
<div>16 (squares) and <i>L</i> = 32 (circles), all for <i>U</i> = 1. Density</div>
<div>profiles in the bulk are flat and currents do not depend on</div>
<div><i>L</i>, indicating ballistic transport. In both frames upper two</div>
<div>sets of symbols are for one fermion species, lower two for the</div>
<div class="e">other.</div>
</div>
<div class="c" style="left:4188px;top:966px;--lh:18.8px;">
<div>nonsymmetric driving with <i>L</i><sub>1,2</sub> = √Γ(1 ∓ <i>μ</i><sub>L↑</sub>) <i>σ</i><sup>±</sup><sub>1</sub> and</div>
<div><i>L</i><sub>3,4</sub> = √Γ(1 ± <i>μ</i><sub>R↑</sub>) <i>σ</i><sup>±</sup><sub><i>L</i></sub> for the first chain, where <i>μ</i><sub>L↑</sub> =</div>
<div>0.5 and <i>μ</i><sub>R↑</sub> = 0.9, while <i>L</i><sub>5,6</sub> = √Γ(1 ∓ <i>μ</i><sub>L↓</sub>) <i>τ</i><sup>±</sup><sub>1</sub> and</div>
<div><i>L</i><sub>7,8</sub> = √Γ(1 ± <i>μ</i><sub>R↓</sub>) <i>τ</i><sup>±</sup><sub><i>L</i></sub> with <i>μ</i><sub>L↓</sub> = 0.4 and <i>μ</i><sub>R↓</sub> = 0.8</div>
<div>for the 2nd chain. Density profiles can be seen in Fig. 8.</div>
<div>One can see that the gradient is very small (or zero);</div>
<div>what is more, currents are almost independent of system</div>
</div>

<!-- ============ FIGURES / OVERLAY ============ -->
<svg width="4635" height="1200" style="position:absolute;left:0;top:0;" xmlns="http://www.w3.org/2000/svg">
<defs>
<marker id="rs" markerWidth="6" markerHeight="6" refX="3" refY="3" markerUnits="userSpaceOnUse"><rect width="6" height="6" fill="#e00"/></marker>
<marker id="rc" markerWidth="7" markerHeight="7" refX="3.5" refY="3.5" markerUnits="userSpaceOnUse"><circle cx="3.5" cy="3.5" r="3.2" fill="#e00"/></marker>
<marker id="rt" markerWidth="6" markerHeight="6" refX="3" refY="3" markerUnits="userSpaceOnUse"><path d="M0,6 L3,0 L6,6Z" fill="#e00"/></marker>
<marker id="bs" markerWidth="6" markerHeight="6" refX="3" refY="3" markerUnits="userSpaceOnUse"><rect width="6" height="6" fill="#00d"/></marker>
<marker id="bc" markerWidth="5" markerHeight="5" refX="2.5" refY="2.5" markerUnits="userSpaceOnUse"><circle cx="2.5" cy="2.5" r="2.3" fill="#00d"/></marker>
<marker id="bt" markerWidth="6" markerHeight="6" refX="3" refY="3" markerUnits="userSpaceOnUse"><path d="M0,6 L3,0 L6,6Z" fill="#00c"/></marker>
<marker id="gs" markerWidth="7" markerHeight="7" refX="3.5" refY="3.5" markerUnits="userSpaceOnUse"><rect width="7" height="7" fill="#1e1"/></marker>
<marker id="gc" markerWidth="6" markerHeight="6" refX="3" refY="3" markerUnits="userSpaceOnUse"><circle cx="3" cy="3" r="2.9" fill="#1d1"/></marker>
<marker id="ms" markerWidth="5" markerHeight="5" refX="2.5" refY="2.5" markerUnits="userSpaceOnUse"><circle cx="2.5" cy="2.5" r="2.3" fill="#e3e"/></marker>
</defs>

<!-- arXiv stamp -->
<text transform="translate(55,868) rotate(-90)" font-family="Liberation Serif, serif" font-size="34" fill="#8a8a8a" textLength="592" lengthAdjust="spacingAndGlyphs" style="font-family:'Liberation Serif',serif">arXiv:1203.1727v2  [cond-mat.str-el]  1 Jul 2012</text>

<g font-size="12.5" fill="#111">
<!-- FIG 1 -->
<rect x="1981" y="80" width="310" height="175" fill="none" stroke="#333" stroke-width="1.2"/>
<line x1="1981" y1="167" x2="2291" y2="167" stroke="#ccc"/>
<polyline points="1984,243 1987,223 2287,112 2290,92" fill="none" stroke="#f66" stroke-width="1"/>
<line x1="1987" y1="223" x2="2287" y2="112" stroke="#f99" stroke-width="5"/>
<line x1="1987" y1="223" x2="2287" y2="112" stroke="#500" stroke-width="1.6"/>
<circle cx="1984" cy="243" r="2.5" fill="none" stroke="#e44"/><circle cx="2290" cy="92" r="2.5" fill="none" stroke="#e44"/>
<g text-anchor="end"><text x="1975" y="92">0.6</text><text x="1975" y="132">0.55</text><text x="1975" y="171">0.5</text><text x="1975" y="211">0.45</text><text x="1975" y="251">0.4</text></g>
<g text-anchor="middle"><text x="1984" y="272">0</text><text x="2045" y="272">20</text><text x="2106" y="272">40</text><text x="2168" y="272">60</text><text x="2229" y="272">80</text><text x="2290" y="272">100</text><text x="2137" y="290">i</text></g>
<text x="1946" y="112">n<tspan font-size="9" dy="3">i,s</tspan></text>

<!-- FIG 2 -->
<rect x="1994" y="420" width="294" height="211" fill="none" stroke="#333" stroke-width="1.2"/>
<line x1="1994" y1="422" x2="2288" y2="557" stroke="#999" stroke-dasharray="2,2"/>
<line x1="1994" y1="512" x2="2245" y2="630" stroke="#999" stroke-dasharray="2,2"/>
<line x1="1994" y1="475" x2="2288" y2="613" stroke="#e22" stroke-width="1.6"/>
<polyline points="2027,429 2101,466 2171,502 2215,525" fill="none" stroke="none" marker-start="url(#bt)" marker-mid="url(#bt)" marker-end="url(#bt)"/>
<polyline points="2027,492 2087,518 2101,526 2133,540 2171,557 2215,578 2239,592 2283,611" fill="none" stroke="none" marker-start="url(#rc)" marker-mid="url(#rc)" marker-end="url(#rc)"/>
<polyline points="2027,545 2101,571 2171,597 2215,614 2239,626" fill="none" stroke="none" marker-start="url(#gs)" marker-mid="url(#gs)" marker-end="url(#gs)"/>
<g text-anchor="end"><text x="1988" y="456">10</text><text x="1988" y="562">1</text><text x="1988" y="635">0.2</text></g>
<g text-anchor="middle"><text x="2063" y="650">10</text><text x="2286" y="650">100</text><text x="2142" y="665">L-1</text></g>
<text transform="translate(1980,525) rotate(-90)" text-anchor="middle">j<tspan font-size="9" dy="-5">(c)</tspan><tspan dy="5">/(L∇n)</tspan></text>
<text x="2171" y="490">0.5</text><text x="2155" y="550">U=1.0</text><text x="2171" y="618">2.0</text>

<!-- FIG 3 -->
<rect x="2413" y="87" width="267" height="367" fill="none" stroke="#333" stroke-width="1.2"/>
<line x1="2413" y1="304" x2="2680" y2="304" stroke="#333" stroke-width="2.5"/>
<line x1="2413" y1="197" x2="2680" y2="197" stroke="#ddd"/>
<polyline points="2415,295 2420,271 2431,265 2441,258 2452,252 2462,246 2473,240 2484,233 2494,227 2505,221 2516,215 2526,208 2537,202 2547,196 2558,190 2569,183 2579,177 2590,171 2601,165 2611,158 2622,152 2632,146 2643,140 2654,133 2664,127 2675,121 2680,96" fill="none" stroke="#f88" stroke-width="0.8" marker-mid="url(#rt)" marker-end="url(#rt)" marker-start="url(#rt)"/>
<polyline points="2415,295 2424,260 2439,252 2454,244 2469,237 2484,229 2499,221 2514,213 2529,205 2544,198 2559,190 2574,182 2589,174 2604,166 2619,159 2634,151 2649,143 2664,135 2680,98" fill="none" stroke="#8e8" stroke-width="0.8" stroke-dasharray="2,2" marker-mid="url(#gc)" marker-end="url(#gc)" marker-start="url(#gc)"/>
<polyline points="2419,291 2436,242 2453,235 2470,228 2487,221 2504,214 2521,207 2538,199 2555,193 2572,186 2588,179 2606,172 2623,165 2640,157 2656,149 2674,103" fill="none" stroke="#88f" stroke-width="0.8" stroke-dasharray="2,2" marker-mid="url(#bs)" marker-end="url(#bs)" marker-start="url(#bs)"/>
<rect x="2420" y="92" width="112" height="90" fill="#fff" stroke="#333"/>
<line x1="2425" y1="93" x2="2532" y2="133" stroke="#555" stroke-dasharray="2,2"/>
<line x1="2422" y1="118" x2="2532" y2="180" stroke="#555" stroke-dasharray="2,2"/>
<polyline points="2427,101 2455,108 2484,119 2503,125 2514,129" fill="none" stroke="#8e8" stroke-dasharray="2,2" marker-start="url(#gc)" marker-mid="url(#gc)" marker-end="url(#gc)"/>
<polyline points="2427,146 2455,152 2484,162 2503,168 2514,174" fill="none" stroke="#f88" marker-start="url(#rs)" marker-mid="url(#rs)" marker-end="url(#rs)"/>
<g font-size="9.5"><text x="2535" y="97">0.1</text><text x="2535" y="155">0.01</text><text x="2536" y="115">Δn</text><text x="2432" y="192">10</text><text x="2478" y="192">L</text><text x="2524" y="192">100</text><text x="2474" y="139">n2↑-n1↑</text><text x="2443" y="169">n1↑-nL↑</text></g>
<polyline points="2415,453 2420,430 2431,405 2442,387 2455,369 2468,354 2481,343 2495,334 2508,327 2521,322 2534,319 2547,318 2561,319 2574,322 2587,327 2601,334 2614,343 2627,354 2640,369 2653,387 2664,405 2675,430 2680,453" fill="none" stroke="#f88" stroke-width="0.8" marker-mid="url(#rt)"/>
<polyline points="2415,453 2420,433 2431,411 2442,395 2455,379 2468,366 2481,356 2495,348 2508,342 2521,338 2534,335 2547,334 2561,335 2574,338 2587,342 2601,348 2614,356 2627,366 2640,379 2653,395 2664,411 2675,433 2680,453" fill="none" stroke="#8e8" stroke-width="0.8" stroke-dasharray="2,2" marker-mid="url(#gc)"/>
<polyline points="2423,452 2439,393 2457,382 2473,373 2489,366 2505,361 2524,358 2540,357 2555,357 2571,358 2590,361 2606,366 2622,373 2638,382 2656,393 2672,452" fill="none" stroke="#88f" stroke-width="0.8" marker-start="url(#bs)" marker-mid="url(#bs)" marker-end="url(#bs)"/>
<line x1="2618" y1="392" x2="2618" y2="330" stroke="#000"/><path d="M2615,334 L2618,326 L2621,334Z" fill="#000"/>
<text x="2566" y="406">L=16,32,64</text>
<text x="2520" y="294" font-size="11">(a)</text><text x="2520" y="446" font-size="11">(b)</text>
<g text-anchor="end"><text x="2408" y="97">0.6</text><text x="2408" y="149">0.55</text><text x="2408" y="201">0.5</text><text x="2408" y="252">0.45</text><text x="2408" y="304">0.4</text><text x="2408" y="337">0.008</text><text x="2408" y="367">0.006</text><text x="2408" y="397">0.004</text><text x="2408" y="427">0.002</text><text x="2408" y="457">0</text></g>
<text x="2366" y="121">n<tspan font-size="9" dy="3">i,s</tspan></text>
<text x="2352" y="318" font-size="11.5">&lt;n<tspan font-size="8" dy="3">i↑</tspan><tspan dy="-3">n</tspan><tspan font-size="8" dy="3">i↓</tspan><tspan dy="-3">&gt;</tspan><tspan font-size="8" dy="3">c</tspan></text>
<g text-anchor="middle"><text x="2415" y="472">0</text><text x="2442" y="472">0.1</text><text x="2468" y="472">0.2</text><text x="2495" y="472">0.3</text><text x="2521" y="472">0.4</text><text x="2548" y="472">0.5</text><text x="2574" y="472">0.6</text><text x="2601" y="472">0.7</text><text x="2627" y="472">0.8</text><text x="2654" y="472">0.9</text><text x="2680" y="472">1</text><text x="2547" y="487">(i-0.5)/L</text></g>

<!-- FIG 4 -->
<rect x="2954" y="87" width="237" height="324" fill="none" stroke="#333" stroke-width="1.2"/>
<line x1="2954" y1="279" x2="3191" y2="279" stroke="#333" stroke-width="2.5"/>
<line x1="2954" y1="183" x2="3191" y2="183" stroke="#ddd"/>
<polyline points="2956,261 2961,212 2970,210 2979,207 2988,205 2997,203 3006,200 3015,198 3024,196 3033,193 3042,191 3051,189 3060,186 3069,184 3078,182 3087,179 3096,177 3105,175 3114,172 3123,170 3132,168 3141,165 3150,163 3159,161 3168,158 3177,156 3186,154 3191,105" fill="none" stroke="#f88" stroke-width="0.8" marker-mid="url(#rt)" marker-start="url(#rt)" marker-end="url(#rt)"/>
<polyline points="2956,261 2968,200 2982,197 2996,195 3010,192 3024,190 3038,187 3052,185 3066,182 3080,180 3094,177 3108,175 3122,172 3136,170 3150,168 3164,166 3179,166 3191,105" fill="none" stroke="#8e8" stroke-width="0.8" stroke-dasharray="2,2" marker-mid="url(#gc)" marker-start="url(#gc)" marker-end="url(#gc)"/>
<polyline points="2963,258 2977,191 2992,189 3006,188 3021,186 3036,185 3050,184 3065,183 3080,182 3094,181 3109,179 3124,178 3138,177 3153,176 3170,175 3184,108" fill="none" stroke="#88f" stroke-width="0.8" stroke-dasharray="2,2" marker-mid="url(#bs)" marker-start="url(#bs)" marker-end="url(#bs)"/>
<polyline points="2956,408 2961,320 2966,316 2975,313 2985,307 2995,300 3005,295 3015,290 3025,287 3035,288 3045,288 3055,288 3065,288 3075,290 3085,293 3095,298 3105,303 3115,308 3125,314 3135,320 3145,322 3155,330 3165,345 3186,320 3191,408" fill="none" stroke="#f88" stroke-width="0.8" marker-mid="url(#rt)"/>
<polyline points="2956,408 2962,346 2972,342 2984,340 2996,337 3008,335 3020,333 3032,332 3044,331 3056,331 3068,331 3080,331 3092,333 3104,334 3116,337 3128,340 3140,342 3152,344 3164,345 3176,348 3186,346 3191,408" fill="none" stroke="#8e8" stroke-width="0.8" stroke-dasharray="2,2" marker-mid="url(#gc)"/>
<polyline points="2958,407 2963,408 2977,368 2992,368 3006,367 3021,366 3036,365 3050,364 3065,364 3080,364 3094,365 3109,366 3124,367 3138,369 3153,370 3170,370 3184,407 3189,406" fill="none" stroke="#88f" stroke-width="0.8" marker-mid="url(#bs)"/>
<line x1="3105" y1="390" x2="3105" y2="305" stroke="#000"/><path d="M3102,309 L3105,301 L3108,309Z" fill="#000"/>
<text x="3060" y="322">L=16,32,64</text>
<text x="3066" y="270" font-size="11">(a)</text><text x="3066" y="402" font-size="11">(b)</text>
<g text-anchor="end"><text x="2949" y="95">0.6</text><text x="2949" y="141">0.55</text><text x="2949" y="187">0.5</text><text x="2949" y="233">0.45</text><text x="2949" y="279">0.4</text><text x="2949" y="302">0.003</text><text x="2949" y="339">0.002</text><text x="2949" y="375">0.001</text><text x="2949" y="412">0</text></g>
<text x="2918" y="116">n<tspan font-size="9" dy="3">i,s</tspan></text>
<text x="2921" y="290" font-size="11">&lt;n<tspan font-size="8" dy="3">i↑</tspan><tspan dy="-3">n</tspan><tspan font-size="8" dy="3">i↓</tspan><tspan dy="-3">&gt;</tspan><tspan font-size="8" dy="3">c</tspan></text>
<g text-anchor="middle"><text x="2956" y="428">0</text><text x="2980" y="428">0.1</text><text x="3003" y="428">0.2</text><text x="3027" y="428">0.3</text><text x="3050" y="428">0.4</text><text x="3074" y="428">0.5</text><text x="3097" y="428">0.6</text><text x="3121" y="428">0.7</text><text x="3144" y="428">0.8</text><text x="3168" y="428">0.9</text><text x="3191" y="428">1</text><text x="3073" y="442">(i-0.5)/L</text></g>

<!-- FIG 5 -->
<rect x="3351" y="87" width="237" height="324" fill="none" stroke="#333" stroke-width="1.2"/>
<line x1="3351" y1="279" x2="3588" y2="279" stroke="#333" stroke-width="2.5"/>
<polyline points="3360,269 3366,228 3373,225 3380,222 3387,219 3393,216 3400,213 3407,210 3413,207 3420,204 3427,201 3434,198 3440,195 3447,192 3454,189 3460,186 3467,183 3474,180 3480,177 3487,174 3494,171 3501,168 3507,165 3514,162 3521,159 3527,156 3534,153 3541,150 3548,148 3554,145 3561,143 3567,101" fill="none" stroke="#f66" stroke-width="0.8" marker-start="url(#rs)" marker-mid="url(#rs)" marker-end="url(#rs)"/>
<polyline points="3360,199 3366,197 3373,197 3380,197 3387,197 3393,197 3400,197 3407,197 3413,197 3420,197 3427,197 3434,197 3440,197 3447,197 3454,197 3460,197 3467,197 3474,197 3480,197 3487,197 3494,197 3501,197 3507,197 3514,197 3521,197 3527,197 3534,197 3541,197 3548,197 3554,197 3561,197 3567,201" fill="none" stroke="#66f" stroke-width="0.8" stroke-dasharray="2,2" marker-mid="url(#bc)" marker-start="url(#bc)" marker-end="url(#bc)"/>
<polyline points="3360,348 3366,315 3373,306 3380,301 3393,295 3407,290 3420,288 3434,287 3447,287 3460,287 3474,287 3487,287 3501,288 3514,289 3527,291 3541,295 3554,303 3561,314 3567,348" fill="none" stroke="#f66" stroke-width="0.8" marker-start="url(#rs)" marker-mid="url(#rs)" marker-end="url(#rs)"/>
<polyline points="3366,285 3380,284 3400,284 3420,284 3440,284 3460,284 3480,284 3500,284 3520,284 3540,284 3554,284 3561,280" fill="none" stroke="#f88" stroke-dasharray="1.5,2"/>
<polyline points="3360,348 3366,381 3373,390 3380,395 3393,401 3407,406 3420,408 3434,409 3447,409 3460,409 3474,409 3487,409 3501,408 3514,407 3527,405 3541,401 3554,393 3561,382 3567,348" fill="none" stroke="#66f" stroke-width="0.8" marker-start="url(#bc)" marker-mid="url(#bc)" marker-end="url(#bc)"/>
<polyline points="3366,402 3380,404 3400,404 3420,404 3440,404 3460,404 3480,404 3500,404 3520,404 3540,404 3554,404 3561,398" fill="none" stroke="#88f" stroke-dasharray="1.5,2"/>
<line x1="3400" y1="318" x2="3378" y2="290" stroke="#000"/><path d="M3376,296 L3376,287 L3382,292Z" fill="#000"/>
<line x1="3392" y1="333" x2="3380" y2="405" stroke="#000"/><path d="M3377,399 L3379,408 L3383,400Z" fill="#000"/>
<text x="3396" y="329" font-size="11">&lt;(n<tspan font-size="8" dy="3">i↑</tspan><tspan dy="-3">-1/2)(n</tspan><tspan font-size="8" dy="3">i↓</tspan><tspan dy="-3">-1/2)&gt;</tspan></text>
<text x="3497" y="100" font-size="11.5">charge driving</text><line x1="3545" y1="96" x2="3575" y2="96" stroke="#e00"/><rect x="3557" y="93" width="5" height="5" fill="#e00"/>
<text x="3506" y="112" font-size="11.5">spin driving</text><line x1="3545" y1="108" x2="3575" y2="108" stroke="#00d" stroke-dasharray="2,2"/><circle cx="3560" cy="108" r="2.3" fill="#00d"/>
<text x="3570" y="269" font-size="11">(a)</text><text x="3570" y="398" font-size="11">(b)</text>
<g text-anchor="end" font-size="11.5"><text x="3344" y="91">0.36</text><text x="3344" y="110">0.34</text><text x="3344" y="129">0.32</text><text x="3344" y="148">0.3</text><text x="3344" y="168">0.28</text><text x="3344" y="187">0.26</text><text x="3344" y="206">0.24</text><text x="3344" y="225">0.22</text><text x="3344" y="245">0.2</text><text x="3344" y="264">0.18</text><text x="3344" y="283">0.16</text><text x="3344" y="305">0.004</text><text x="3344" y="328">0.002</text><text x="3344" y="352">0</text><text x="3344" y="375">-0.002</text><text x="3344" y="399">-0.004</text></g>
<text transform="translate(3309,118) rotate(-90)" text-anchor="middle" font-size="11">&lt;n<tspan font-size="8" dy="3">i↑</tspan><tspan dy="-3">n</tspan><tspan font-size="8" dy="3">i↓</tspan><tspan dy="-3">&gt;</tspan></text>
<text transform="translate(3309,318) rotate(-90)" text-anchor="middle" font-size="11">&lt;n<tspan font-size="8" dy="3">i↑</tspan><tspan dy="-3">n</tspan><tspan font-size="8" dy="3">i↓</tspan><tspan dy="-3">&gt;</tspan><tspan font-size="8" dy="3">c</tspan></text>
<g text-anchor="middle"><text x="3353" y="428">0</text><text x="3387" y="428">5</text><text x="3420" y="428">10</text><text x="3454" y="428">15</text><text x="3487" y="428">20</text><text x="3521" y="428">25</text><text x="3554" y="428">30</text><text x="3588" y="428">35</text><text x="3470" y="442">i</text></g>

<!-- FIG 6 -->
<rect x="3848" y="121" width="307" height="172" fill="none" stroke="#333" stroke-width="1.2"/>
<polyline points="3868,242 3877,239 3886,237 3896,235 3905,232 3914,230 3924,227 3933,225 3942,222 3952,220 3961,218 3970,215 3980,213 3989,210 3998,208 4008,206 4017,203 4026,201 4036,198 4045,196 4054,193 4064,191 4073,189 4082,186 4092,184 4101,181 4110,179 4120,176 4129,174 4138,172" fill="none" stroke="none" marker-mid="url(#gs)" marker-start="url(#gs)" marker-end="url(#gs)"/>
<rect x="3855" y="279" width="6" height="6" fill="#1e1"/><rect x="4145" y="128" width="6" height="6" fill="#1e1"/>
<path d="M3854,292 L3856,285 L3858,278 L3868,268 L3877,261 L3896,250 L3924,237 L3961,222 L4003,206.5 L4045,191 L4082,176 L4110,163 L4129,152 L4138,145 L4148,135 L4150,128 L4152,121" fill="none" stroke="#e00" stroke-width="1.4"/>
<polyline points="3858,289 3868,269 3877,262 3886,256 3896,251 3905,246 3914,242 3924,237 3933,233 3942,229 3952,226 3961,222 3970,218 3980,214 3989,210 3998,207 4008,203 4017,199 4026,195 4036,191 4045,187 4054,183 4064,180 4073,176 4082,172 4092,167 4101,163 4110,158 4120,152 4129,145 4138,138 4148,124" fill="none" stroke="none" marker-mid="url(#bc)" marker-start="url(#bc)" marker-end="url(#bc)"/>
<text x="4070" y="273" text-anchor="end" font-size="13">U=1.0</text><line x1="4080" y1="269" x2="4115" y2="269" stroke="#9e9"/><rect x="4095" y="266" width="6" height="6" fill="#1e1"/>
<text x="4070" y="288" text-anchor="end" font-size="13">U=5.0</text><line x1="4080" y1="284" x2="4115" y2="284" stroke="#99e"/><circle cx="4098" cy="284" r="2.3" fill="#00d"/>
<g text-anchor="end"><text x="3842" y="125">1</text><text x="3842" y="147">0.75</text><text x="3842" y="168">0.5</text><text x="3842" y="189">0.25</text><text x="3842" y="211">0</text><text x="3842" y="232">-0.25</text><text x="3842" y="254">-0.5</text><text x="3842" y="275">-0.75</text><text x="3842" y="296">-1</text></g>
<g text-anchor="middle"><text x="3849" y="310">0</text><text x="3896" y="310">5</text><text x="3942" y="310">10</text><text x="3989" y="310">15</text><text x="4036" y="310">20</text><text x="4082" y="310">25</text><text x="4129" y="310">30</text><text x="4003" y="326">i</text></g>
<text transform="translate(3806,155) rotate(-90)" text-anchor="middle">(2n<tspan font-size="9" dy="3">i,s</tspan><tspan dy="-3">−1)/μ</tspan></text>

<!-- FIG 7 -->
<rect x="4257" y="93" width="281" height="188" fill="none" stroke="#333" stroke-width="1.2"/>
<line x1="4257" y1="93" x2="4538" y2="93" stroke="#888" stroke-width="3"/>
<path d="M4257,281 L4271,280 L4285,276.4 L4299,270.5 L4313,263 L4327,253.5 L4341,242.3 L4355,229.7 L4369,216.1 L4383,201.8 L4397.5,187 L4412,172.2 L4426,157.9 L4440,144.3 L4454,131.7 L4468,120.5 L4482,110.9 L4496,103.5 L4510,97.6 L4524,94.1 L4538,93" fill="none" stroke="#e22" stroke-width="5" stroke-dasharray="4,1.7"/>
<path d="M4257,281 L4271,280 L4285,276.4 L4299,270.5 L4313,263 L4327,253.5 L4341,242.3 L4355,229.7 L4369,216.1 L4383,201.8 L4397.5,187 L4412,172.2 L4426,157.9 L4440,144.3 L4454,131.7 L4468,120.5 L4482,110.9 L4496,103.5 L4510,97.6 L4524,94.1 L4538,93" fill="none" stroke="#000" stroke-width="1.3"/>
<text x="4280" y="106" font-size="13">sin<tspan font-size="9" dy="-5">2</tspan><tspan dy="5">[πx/2]</tspan></text><line x1="4335" y1="102" x2="4368" y2="102" stroke="#000" stroke-width="1.5"/>
<rect x="4436" y="168" width="97" height="96" fill="#fff" stroke="#333"/>
<polyline points="4440,203 4447,215 4455,228 4463,241 4471,253 4479,262 4487,262 4495,253 4503,241 4511,228 4519,215 4527,190 4530,170" fill="none" stroke="#5d5" stroke-width="0.8" marker-mid="url(#gc)"/>
<polyline points="4440,230 4450,241 4460,250 4470,257 4480,262 4490,262 4500,257 4510,250 4520,241 4530,230" fill="none" stroke="#88f" stroke-width="0.8" stroke-dasharray="2,1" marker-mid="url(#bc)"/>
<path d="M4440,245 Q4485,275 4530,245" fill="none" stroke="#e22" stroke-width="4" stroke-dasharray="3,1"/>
<g font-size="12"><text x="4465" y="186">L=16</text><text x="4475" y="199">32</text><text x="4475" y="212">50</text></g>
<line x1="4500" y1="182" x2="4520" y2="182" stroke="#5d5"/><line x1="4500" y1="195" x2="4520" y2="195" stroke="#88f" stroke-dasharray="2,1"/><line x1="4500" y1="208" x2="4520" y2="208" stroke="#e22" stroke-width="2"/>
<g font-size="8.5" text-anchor="end"><text x="4432" y="183">0.075</text><text x="4432" y="210">0.05</text><text x="4432" y="237">0.025</text><text x="4432" y="264">0</text></g>
<g font-size="8.5" text-anchor="middle"><text x="4438" y="275">0</text><text x="4461" y="275">0.25</text><text x="4485" y="275">0.5</text><text x="4509" y="275">0.75</text><text x="4532" y="275">1</text></g>
<text transform="translate(4412,253) rotate(-90)" text-anchor="middle" font-size="11">|Δn|</text>
<g text-anchor="end"><text x="4250" y="97">1</text><text x="4250" y="116">0.9</text><text x="4250" y="134">0.8</text><text x="4250" y="153">0.7</text><text x="4250" y="172">0.6</text><text x="4250" y="191">0.5</text><text x="4250" y="210">0.4</text><text x="4250" y="228">0.3</text><text x="4250" y="247">0.2</text><text x="4250" y="266">0.1</text><text x="4250" y="285">0</text></g>
<g text-anchor="middle"><text x="4257" y="299">0</text><text x="4285" y="299">0.1</text><text x="4313" y="299">0.2</text><text x="4341" y="299">0.3</text><text x="4369" y="299">0.4</text><text x="4398" y="299">0.5</text><text x="4426" y="299">0.6</text><text x="4454" y="299">0.7</text><text x="4482" y="299">0.8</text><text x="4510" y="299">0.9</text><text x="4538" y="299">1</text><text x="4397" y="316">x=(i-0.5)/L</text></g>
<text transform="translate(4236,100) rotate(-90)" text-anchor="middle">n<tspan font-size="9" dy="3">i,s</tspan></text>

<!-- FIG 8 -->
<rect x="4280" y="451" width="238" height="325" fill="none" stroke="#333" stroke-width="1.2"/>
<line x1="4280" y1="644" x2="4518" y2="644" stroke="#333" stroke-width="2.5"/>
<polyline points="4285,594 4296,536 4311,535 4327,535 4342,534 4358,534 4373,534 4388,534 4404,534 4419,534 4434,534 4450,533 4465,533 4481,533 4496,532 4516,465" fill="none" stroke="#f77" stroke-width="0.8" stroke-dasharray="2,2" marker-start="url(#rs)" marker-mid="url(#rs)" marker-end="url(#rs)"/>
<polyline points="4285,596 4290,540 4298,539 4306,539 4314,538 4322,538 4330,538 4338,538 4346,538 4354,538 4362,538 4370,538 4378,538 4386,538 4394,538 4402,538 4410,537 4418,537 4426,537 4434,537 4442,537 4450,537 4458,537 4466,536 4474,536 4482,536 4490,535 4498,534 4509,522 4516,465" fill="none" stroke="#7e7" stroke-width="0.8" marker-start="url(#gc)" marker-mid="url(#gc)" marker-end="url(#gc)"/>
<polyline points="4285,640 4296,569 4311,569 4327,569 4342,569 4358,569 4373,569 4388,569 4404,569 4419,569 4434,569 4450,569 4465,569 4481,568 4496,567 4516,504" fill="none" stroke="#77f" stroke-width="0.8" stroke-dasharray="2,2" marker-start="url(#bs)" marker-mid="url(#bs)" marker-end="url(#bs)"/>
<polyline points="4290,572 4298,572 4306,572 4314,572 4322,572 4330,572 4338,572 4346,572 4354,572 4362,572 4370,572 4378,572 4386,572 4394,572 4402,572 4410,572 4418,572 4426,572 4434,572 4442,572 4450,572 4458,572 4466,572 4474,572 4482,572 4490,571 4498,570 4509,566" fill="none" stroke="#e7e" stroke-width="0.8" marker-start="url(#ms)" marker-mid="url(#ms)" marker-end="url(#ms)"/>
<polyline points="4290,699 4298,699 4306,699 4314,699 4322,698 4330,698 4338,697 4346,697 4354,696 4362,696 4370,697 4378,698 4386,700 4394,701 4402,701 4410,701 4418,701 4426,701 4434,701 4442,702 4450,702 4458,702 4466,702 4474,702 4482,702 4490,702 4498,703 4506,703" fill="none" stroke="#7e7" stroke-width="0.8" marker-mid="url(#gc)" marker-start="url(#gc)" marker-end="url(#gc)"/>
<polyline points="4296,703 4311,703 4327,703 4342,703 4358,703 4373,703 4388,703 4404,703 4419,703 4434,703 4450,703 4465,703 4481,703 4496,703" fill="none" stroke="#f77" stroke-width="0.8" stroke-dasharray="2,2" marker-mid="url(#rs)" marker-start="url(#rs)" marker-end="url(#rs)"/>
<polyline points="4296,711 4311,711 4327,711 4342,711 4358,711 4373,711 4388,711 4404,711 4419,711 4434,711 4450,711 4465,711 4481,711 4496,711" fill="none" stroke="#77f" stroke-width="0.8" stroke-dasharray="2,2" marker-mid="url(#bs)" marker-start="url(#bs)" marker-end="url(#bs)"/>
<polyline points="4290,710 4298,710 4306,711 4314,711 4322,712 4330,712 4338,712 4346,713 4354,713 4362,714 4370,714 4378,715 4386,715 4394,716 4402,716 4410,716 4418,716 4426,716 4434,716 4442,716 4450,716 4458,716 4466,716 4474,716 4482,716 4490,716 4498,716 4506,716" fill="none" stroke="#e7e" stroke-width="0.8" marker-mid="url(#ms)" marker-start="url(#ms)" marker-end="url(#ms)"/>
<text x="4374" y="465" font-size="11">(a)</text><text x="4374" y="659" font-size="11">(b)</text>
<text x="4434" y="523" font-size="10.5">n<tspan font-size="8" dy="3">i,↑</tspan></text>
<text x="4434" y="590" font-size="10.5">n<tspan font-size="8" dy="3">i,↓</tspan></text>
<text x="4432" y="692" font-size="10.5">j<tspan font-size="8" dy="-6">(↑)</tspan></text>
<text x="4432" y="728" font-size="10.5">j<tspan font-size="8" dy="-6">(↓)</tspan></text>
<g text-anchor="end"><text x="4273" y="455">0.95</text><text x="4273" y="494">0.9</text><text x="4273" y="533">0.85</text><text x="4273" y="571">0.8</text><text x="4273" y="609">0.75</text><text x="4273" y="648">-0.04</text><text x="4273" y="667">-0.05</text><text x="4273" y="686">-0.06</text><text x="4273" y="704">-0.07</text><text x="4273" y="723">-0.08</text><text x="4273" y="742">-0.09</text><text x="4273" y="761">-0.1</text><text x="4273" y="780">-0.11</text></g>
<text x="4235" y="480" font-size="11">n<tspan font-size="8" dy="3">i,s</tspan></text>
<text x="4232" y="665" font-size="11">j<tspan font-size="8" dy="-6">(σ)</tspan></text>
<g text-anchor="middle"><text x="4282" y="792">0</text><text x="4306" y="792">0.1</text><text x="4329" y="792">0.2</text><text x="4353" y="792">0.3</text><text x="4376" y="792">0.4</text><text x="4400" y="792">0.5</text><text x="4423" y="792">0.6</text><text x="4447" y="792">0.7</text><text x="4470" y="792">0.8</text><text x="4494" y="792">0.9</text><text x="4517" y="792">1</text><text x="4400" y="805">(i-0.5)/L</text></g>
</g>
</svg>
</body></html>
